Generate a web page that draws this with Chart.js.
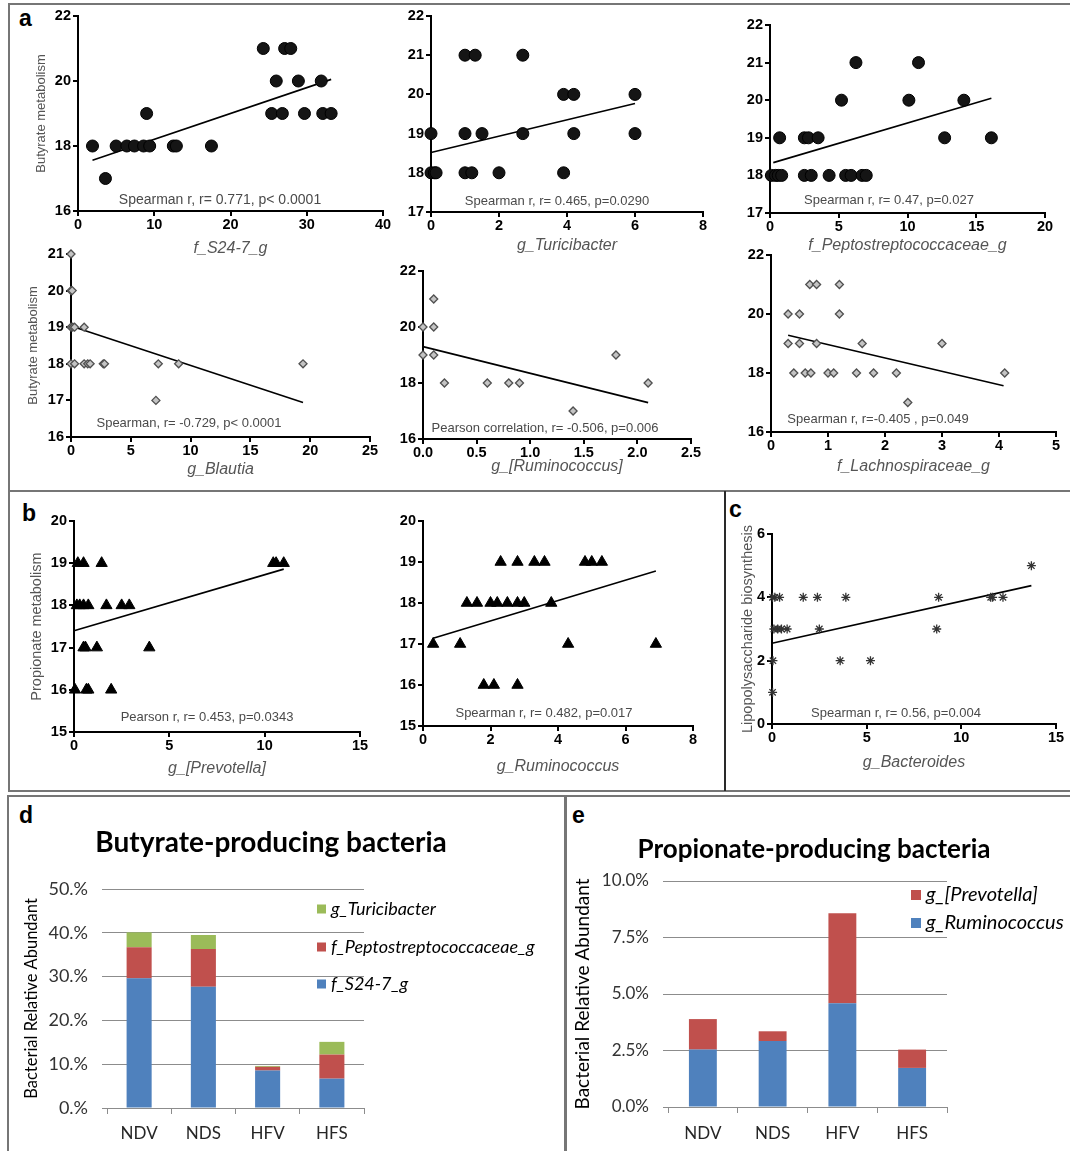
<!DOCTYPE html>
<html>
<head>
<meta charset="utf-8">
<script src="https://cdn.jsdelivr.net/npm/chart.js@4.4.1/dist/chart.umd.min.js"></script>
<style>
  body { margin: 0; width: 1070px; height: 1151px; position: relative; overflow: hidden; background: #fff; }
  .box { position: absolute; }
  .frame { position: absolute; box-sizing: border-box; border: 2px solid #767676; }
  .rule { position: absolute; background: #767676; }
  .tag { position: absolute; font: bold 23px "Liberation Sans", Arial, sans-serif; line-height: 1; color: #000; }
</style>
</head>
<body>
<div class="frame" style="left:8px;top:3px;width:1090px;height:789px"></div>
<div class="rule" style="left:8px;top:490px;width:1070px;height:2px"></div>
<div class="rule" style="left:724px;top:491px;width:2px;height:300px;background:#2a2a2a"></div>
<div class="frame" style="left:7px;top:795px;width:560px;height:400px"></div>
<div class="frame" style="left:564px;top:795px;width:530px;height:400px"></div>
<div class="tag" style="left:19px;top:7px">a</div>
<div class="tag" style="left:22px;top:502px">b</div>
<div class="tag" style="left:729px;top:498px">c</div>
<div class="tag" style="left:19px;top:804px">d</div>
<div class="tag" style="left:572px;top:804px">e</div>

<script>
// a: butyrate metabolism against each genus (top row)
const s247X = [1.9, 3.6, 5.0, 6.4, 7.4, 8.6, 9.0, 9.4, 12.5, 12.9, 17.5, 24.3, 25.4, 26.0, 26.8, 27.1, 27.9, 28.9, 29.7, 31.9, 32.1, 33.2]
const s247Y = [18, 17, 18, 18, 18, 18, 19, 18, 18, 18, 18, 21, 19, 20, 19, 21, 21, 20, 19, 20, 19, 19]
const s247Fit = [[1.9, 17.56], [33.2, 20.05]]

const turiciX = [0, 0, 0.1, 0.15, 1.0, 1.3, 1.0, 1.5, 1.0, 1.2, 2.0, 2.7, 2.7, 3.9, 4.2, 4.2, 3.9, 6.0, 6.0]
const turiciY = [19, 18, 18, 18, 21, 21, 19, 19, 18, 18, 18, 21, 19, 20, 20, 19, 18, 20, 19]
const turiciFit = [[0, 18.52], [6, 19.77]]

const peptoX = [0.1, 0.4, 0.6, 0.85, 2.5, 3.0, 4.3, 5.5, 5.9, 6.7, 7.0, 0.7, 2.5, 2.8, 3.5, 12.7, 16.1, 5.2, 10.1, 14.1, 6.25, 10.8]
const peptoY = [18, 18, 18, 18, 18, 18, 18, 18, 18, 18, 18, 19, 19, 19, 19, 19, 19, 20, 20, 20, 21, 21]
const peptoFit = [[0.24, 18.34], [16.1, 20.05]]

// a: bottom row
const blautiaX = [0, 0, 0.1, 0, 0.15, 0.3, 1.1, 0, 0.3, 1.1, 1.4, 1.6, 2.7, 2.8, 7.3, 9.0, 19.4, 7.1]
const blautiaY = [21, 20, 20, 19, 19, 19, 19, 18, 18, 18, 18, 18, 18, 18, 18, 18, 18, 17]
const blautiaFit = [[0, 19.03], [19.4, 16.94]]

const rumiBrX = [0, 0, 0.1, 0.1, 0.1, 0.2, 0.6, 0.8, 0.9, 1.4, 1.8, 2.1]
const rumiBrY = [20, 19, 21, 20, 19, 18, 18, 18, 18, 17, 19, 18]
const rumiBrFit = [[0, 19.30], [2.1, 17.30]]

const lachnoX = [0.68, 0.8, 1.2, 0.3, 0.5, 1.2, 0.3, 0.5, 0.8, 1.6, 3.0, 0.4, 0.6, 0.7, 1.0, 1.1, 1.5, 1.8, 2.2, 4.1, 2.4]
const lachnoY = [21, 21, 21, 20, 20, 20, 19, 19, 19, 19, 19, 18, 18, 18, 18, 18, 18, 18, 18, 18, 17]
const lachnoFit = [[0.3, 19.28], [4.08, 17.57]]

// b: propionate metabolism
const prevoX = [0.2, 0.5, 1.45, 10.45, 10.6, 11.0, 0.15, 0.3, 0.5, 0.75, 1.7, 2.5, 2.9, 0.5, 0.6, 1.2, 3.95, 0.05, 0.65, 0.75, 1.95]
const prevoY = [19, 19, 19, 19, 19, 19, 18, 18, 18, 18, 18, 18, 18, 17, 17, 17, 17, 16, 16, 16, 16]
const prevoFit = [[0, 17.40], [11, 18.86]]

const rumiX = [2.3, 2.8, 3.3, 3.6, 4.8, 5.0, 5.3, 1.3, 1.6, 2.0, 2.2, 2.5, 2.8, 3.0, 3.8, 0.3, 1.1, 4.3, 6.9, 1.8, 2.1, 2.8]
const rumiY = [19, 19, 19, 19, 19, 19, 19, 18, 18, 18, 18, 18, 18, 18, 18, 17, 17, 17, 17, 16, 16, 16]
const rumiFit = [[0.3, 17.14], [6.9, 18.78]]

// c: lipopolysaccharide biosynthesis
const bacterX = [13.7, 0.03, 0.15, 0.4, 1.65, 2.4, 3.9, 8.8, 11.55, 11.65, 12.2, 0.1, 0.3, 0.5, 0.8, 2.5, 8.7, 0.05, 3.6, 5.2, 0.03]
const bacterY = [5, 4, 4, 4, 4, 4, 4, 4, 4, 4, 4, 3, 3, 3, 3, 3, 3, 2, 2, 2, 1]
const bacterFit = [[0, 2.55], [13.7, 4.37]]

// d, e: relative abundance (%)
const groups = ['NDV', 'NDS', 'HFV', 'HFS']
const s247Abund = [29.6, 27.7, 8.55, 6.7]
const peptoAbund = [7.1, 8.6, 0.85, 5.5]
const turiciAbund = [3.4, 3.2, 0.2, 2.9]
const rumiAbund = [2.54, 2.92, 4.59, 1.73]
const prevoAbund = [1.35, 0.43, 3.98, 0.81]

const sans = '"Liberation Sans", Arial, sans-serif'
const excel = 'Lato, "Open Sans", sans-serif'
Chart.defaults.font.family = sans

function addCanvas(left, top, w, h) {
  const box = document.createElement('div')
  box.className = 'box'
  Object.assign(box.style, { left: left + 'px', top: top + 'px', width: w + 'px', height: h + 'px' })
  const cv = document.createElement('canvas')
  box.appendChild(cv)
  document.body.appendChild(box)
  return cv
}

// free text placed in page coordinates
const textPlugin = {
  id: 'texts',
  afterDraw(chart, args, opts) {
    const ctx = chart.ctx
    for (const t of opts.items) {
      ctx.save()
      ctx.font = t.font
      ctx.fillStyle = t.color
      ctx.textAlign = 'center'
      ctx.textBaseline = 'middle'
      ctx.fillText(t.text, t.x - opts.left, t.y - opts.top)
      ctx.restore()
    }
  }
}

// square-swatch legend like the spreadsheet one
const swatchLegend = {
  id: 'swatches',
  afterDraw(chart, args, o) {
    const ctx = chart.ctx
    o.order.forEach((di, k) => {
      const ds = chart.data.datasets[di]
      const x = o.x - o.left
      const y = o.ys[k] - o.top
      ctx.save()
      ctx.fillStyle = ds.backgroundColor
      ctx.fillRect(x, y - o.size / 2, o.size, o.size)
      ctx.fillStyle = '#000'
      ctx.font = o.font
      ctx.textAlign = 'left'
      ctx.textBaseline = 'middle'
      ctx.fillText(ds.label, x + o.size + o.gap, y)
      ctx.restore()
    })
  }
}

const L = 62, R = 30, T = 12, B = 70

function scatterPanel(p) {
  const [x0, y0, x1, y1] = p.area
  const left = x0 - L, top = y0 - T
  const cv = addCanvas(left, top, x1 - x0 + L + R, y1 - y0 + T + B)
  const m = p.marker
  const tickFont = { family: sans, size: 14.5, weight: 'bold' }
  const ySize = p.yTitleSize || 13
  new Chart(cv, {
    type: 'scatter',
    data: {
      datasets: [
        {
          data: p.xs.map((x, i) => ({ x, y: p.ys[i] })),
          pointStyle: m.style, pointRadius: m.r, pointHoverRadius: m.r,
          backgroundColor: m.fill, borderColor: m.edge, borderWidth: m.bw, clip: false
        },
        {
          data: p.fit.map(([x, y]) => ({ x, y })),
          showLine: true, pointRadius: 0, borderColor: '#000', borderWidth: 1.6, clip: false
        }
      ]
    },
    options: {
      responsive: true,
      maintainAspectRatio: false,
      animation: false,
      events: [],
      layout: { padding: { left: 0, top: T, right: R, bottom: 0 } },
      plugins: {
        legend: { display: false },
        tooltip: { enabled: false },
        texts: { left, top, items: [{ text: p.note, x: p.noteX, y: p.noteY, font: `${p.noteSize || 13}px ${sans}`, color: '#4a4a4a' }] }
      },
      scales: {
        x: {
          type: 'linear', min: p.x[0], max: p.x[1],
          ticks: { stepSize: p.x[2], font: tickFont, color: '#000', padding: 0, maxRotation: 0, callback: v => p.x[3] ? v.toFixed(p.x[3]) : v },
          grid: { drawOnChartArea: false, tickLength: 5, color: '#000', lineWidth: 2 },
          border: { color: '#000', width: 2 },
          title: { display: true, text: p.xTitle, color: '#555', font: { family: sans, size: 16, style: 'italic' }, padding: { top: 0, bottom: y1 + B - p.xTitleY - 9.6 } },
          afterFit: s => { s.height = B }
        },
        y: {
          type: 'linear', min: p.y[0], max: p.y[1],
          ticks: { stepSize: p.y[2], font: tickFont, color: '#000', padding: 2 },
          grid: { drawOnChartArea: false, tickLength: 5, color: '#000', lineWidth: 2 },
          border: { color: '#000', width: 2 },
          title: { display: !!p.yTitle, text: p.yTitle || '', color: '#555', font: { family: sans, size: ySize }, padding: { top: (p.yTitleX || 0) - left - ySize * 0.6, bottom: 0 } },
          afterFit: s => { s.width = L }
        }
      }
    },
    plugins: [textPlugin]
  })
}

const dot = { style: 'circle', r: 6, fill: '#151515', edge: '#000', bw: 1 }
const diamond = { style: 'rectRot', r: 4, fill: '#c4c4c4', edge: '#505050', bw: 1.3 }
const tri = { style: 'triangle', r: 6.5, fill: '#000', edge: '#000', bw: 1 }
const star = { style: 'star', r: 4.5, fill: '#333', edge: '#333', bw: 1.3 }

scatterPanel({ area: [78, 16, 383, 211], x: [0, 40, 10], y: [16, 22, 2], xs: s247X, ys: s247Y, fit: s247Fit, marker: dot,
  xTitle: 'f_S24-7_g', xTitleY: 249, yTitle: 'Butyrate metabolism', yTitleX: 41,
  note: 'Spearman r, r= 0.771, p< 0.0001', noteX: 220, noteY: 200, noteSize: 14 })
scatterPanel({ area: [431, 16, 703, 212], x: [0, 8, 2], y: [17, 22, 1], xs: turiciX, ys: turiciY, fit: turiciFit, marker: dot,
  xTitle: 'g_Turicibacter', xTitleY: 246,
  note: 'Spearman r, r= 0.465, p=0.0290', noteX: 557, noteY: 201 })
scatterPanel({ area: [770, 25, 1045, 213], x: [0, 20, 5], y: [17, 22, 1], xs: peptoX, ys: peptoY, fit: peptoFit, marker: dot,
  xTitle: 'f_Peptostreptococcaceae_g', xTitleY: 246,
  note: 'Spearman r, r= 0.47, p=0.027', noteX: 889, noteY: 200 })

scatterPanel({ area: [71, 254, 370, 437], x: [0, 25, 5], y: [16, 21, 1], xs: blautiaX, ys: blautiaY, fit: blautiaFit, marker: diamond,
  xTitle: 'g_Blautia', xTitleY: 470, yTitle: 'Butyrate metabolism', yTitleX: 33,
  note: 'Spearman, r= -0.729, p< 0.0001', noteX: 189, noteY: 423 })
scatterPanel({ area: [423, 271, 691, 439], x: [0, 2.5, 0.5, 1], y: [16, 22, 2], xs: rumiBrX, ys: rumiBrY, fit: rumiBrFit, marker: diamond,
  xTitle: 'g_[Ruminococcus]', xTitleY: 467,
  note: 'Pearson correlation, r= -0.506, p=0.006', noteX: 545, noteY: 428 })
scatterPanel({ area: [771, 255, 1056, 432], x: [0, 5, 1], y: [16, 22, 2], xs: lachnoX, ys: lachnoY, fit: lachnoFit, marker: diamond,
  xTitle: 'f_Lachnospiraceae_g', xTitleY: 467,
  note: 'Spearman r, r=-0.405 , p=0.049', noteX: 878, noteY: 419 })

scatterPanel({ area: [74, 521, 360, 732], x: [0, 15, 5], y: [15, 20, 1], xs: prevoX, ys: prevoY, fit: prevoFit, marker: tri,
  xTitle: 'g_[Prevotella]', xTitleY: 769, yTitle: 'Propionate metabolism', yTitleX: 37, yTitleSize: 14.5,
  note: 'Pearson r, r= 0.453, p=0.0343', noteX: 207, noteY: 717 })
scatterPanel({ area: [423, 521, 693, 726], x: [0, 8, 2], y: [15, 20, 1], xs: rumiX, ys: rumiY, fit: rumiFit, marker: tri,
  xTitle: 'g_Ruminococcus', xTitleY: 767,
  note: 'Spearman r, r= 0.482, p=0.017', noteX: 544, noteY: 713 })
scatterPanel({ area: [772, 534, 1056, 724], x: [0, 15, 5], y: [0, 6, 2], xs: bacterX, ys: bacterY, fit: bacterFit, marker: star,
  xTitle: 'g_Bacteroides', xTitleY: 763, yTitle: 'Lipopolysaccharide biosynthesis', yTitleX: 748, yTitleSize: 14.5,
  note: 'Spearman r, r= 0.56, p=0.004', noteX: 896, noteY: 713 })

const BB = 48

function barPanel(p) {
  const [x0, y0, x1, y1] = p.area
  const [left, top, right] = p.box
  const cv = addCanvas(left, top, right - left, y1 + BB - top)
  new Chart(cv, {
    type: 'bar',
    data: {
      labels: groups,
      datasets: p.series.map(s => ({ label: s.label, data: s.data, backgroundColor: s.color, barPercentage: p.barPct, categoryPercentage: 1 }))
    },
    options: {
      responsive: true,
      maintainAspectRatio: false,
      animation: false,
      events: [],
      layout: { padding: { left: 0, top: y0 - top, right: right - x1, bottom: 0 } },
      plugins: {
        legend: { display: false },
        tooltip: { enabled: false },
        texts: { left, top, items: [{ text: p.title, x: p.titleX, y: p.titleY, font: `bold ${p.titleSize}px ${excel}`, color: '#000' }] },
        swatches: { left, top, order: p.legendOrder, x: p.legendX, ys: p.legendYs, size: p.swatch, gap: 5, font: `italic ${p.legendSize}px ${excel}` }
      },
      scales: {
        x: {
          stacked: true,
          ticks: { font: { family: excel, size: 17 }, color: '#262626', padding: p.xPad },
          grid: { offset: true, drawOnChartArea: false, tickLength: 6, color: '#8c8c8c' },
          border: { color: '#8c8c8c', width: 1 },
          afterFit: s => { s.height = BB }
        },
        y: {
          stacked: true, min: 0, max: p.yMax,
          ticks: { stepSize: p.yStep, callback: p.yFmt, font: { family: excel, size: p.yTickSize }, color: '#333', padding: p.yPad },
          grid: { color: '#8c8c8c', tickLength: 5 },
          border: { display: false },
          title: { display: true, text: 'Bacterial Relative Abundant', color: '#000', font: { family: excel, size: p.yTitleSize }, padding: { top: p.yTitleX - left - p.yTitleSize * 0.6, bottom: 0 } },
          afterFit: s => { s.width = x0 - left }
        }
      }
    },
    plugins: [textPlugin, swatchLegend]
  })
}

barPanel({
  area: [107, 889, 364, 1108], box: [9, 820, 548], barPct: 0.39,
  series: [
    { label: 'f_S24-7_g', data: s247Abund, color: '#4f81bd' },
    { label: 'f_Peptostreptococcaceae_g', data: peptoAbund, color: '#c0504d' },
    { label: 'g_Turicibacter', data: turiciAbund, color: '#9bbb59' }
  ],
  yMax: 50, yStep: 10, yFmt: v => v + '.%', yTickSize: 18, yPad: 14, xPad: 9, yTitleX: 32, yTitleSize: 16.5,
  title: 'Butyrate-producing bacteria', titleX: 271, titleY: 843, titleSize: 28,
  legendOrder: [2, 1, 0], legendX: 317, legendYs: [909, 947, 984], swatch: 9, legendSize: 18
})

barPanel({
  area: [668, 881, 947, 1107], box: [568, 825, 1068], barPct: 0.4,
  series: [
    { label: 'g_Ruminococcus', data: rumiAbund, color: '#4f81bd' },
    { label: 'g_[Prevotella]', data: prevoAbund, color: '#c0504d' }
  ],
  yMax: 10, yStep: 2.5, yFmt: v => v.toFixed(1) + '%', yTickSize: 17, yPad: 14, xPad: 10, yTitleX: 583, yTitleSize: 19,
  title: 'Propionate-producing bacteria', titleX: 814, titleY: 850, titleSize: 26,
  legendOrder: [1, 0], legendX: 911, legendYs: [895, 923], swatch: 10, legendSize: 20
})
</script>
</body>
</html>
